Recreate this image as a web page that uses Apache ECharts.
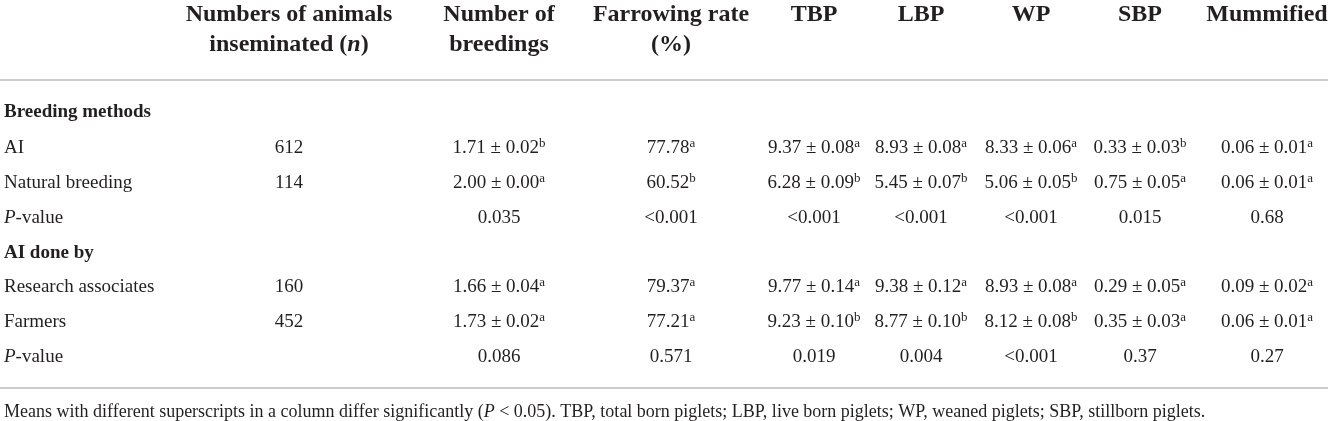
<!DOCTYPE html>
<html>

<head>
    <meta charset="utf-8">
    <script src="https://cdn.jsdelivr.net/npm/echarts@6.0.0/dist/echarts.min.js"></script>
    <style>
        html, body { margin: 0; padding: 0; background: #fff; }
        #table { width: 1331px; height: 421px; }
    </style>
</head>

<body>
    <div id="table"></div>
</body>

<script type="text/javascript">
    // ---- table data ----
    var headers = [
        ['', ''],
        ['Numbers of animals', 'inseminated ({hi|n})'],
        ['Number of', 'breedings'],
        ['Farrowing rate', '(%)'],
        ['TBP', ''],
        ['LBP', ''],
        ['WP', ''],
        ['SBP', ''],
        ['Mummified', '']
    ];
    var groups = ['Breeding methods', 'AI done by'];
    var rowNames = [['AI', 'Natural breeding'], ['Research associates', 'Farmers']];
    var inseminated = [[612, 114], [160, 452]];

    var breedings = [[1.71, 2.00], [1.66, 1.73]];
    var breedingsSE = [[0.02, 0.00], [0.04, 0.02]];
    var breedingsSig = [['b', 'a'], ['a', 'a']];

    var farrowing = [[77.78, 60.52], [79.37, 77.21]];
    var farrowingSig = [['a', 'b'], ['a', 'a']];

    var tbp = [[9.37, 6.28], [9.77, 9.23]];
    var tbpSE = [[0.08, 0.09], [0.14, 0.10]];
    var tbpSig = [['a', 'b'], ['a', 'b']];

    var lbp = [[8.93, 5.45], [9.38, 8.77]];
    var lbpSE = [[0.08, 0.07], [0.12, 0.10]];
    var lbpSig = [['a', 'b'], ['a', 'b']];

    var wp = [[8.33, 5.06], [8.93, 8.12]];
    var wpSE = [[0.06, 0.05], [0.08, 0.08]];
    var wpSig = [['a', 'b'], ['a', 'b']];

    var sbp = [[0.33, 0.75], [0.29, 0.35]];
    var sbpSE = [[0.03, 0.05], [0.05, 0.03]];
    var sbpSig = [['b', 'a'], ['a', 'a']];

    var mummified = [[0.06, 0.06], [0.09, 0.06]];
    var mummifiedSE = [[0.01, 0.01], [0.02, 0.01]];
    var mummifiedSig = [['a', 'a'], ['a', 'a']];

    var pValues = [
        ['0.035', '<0.001', '<0.001', '<0.001', '<0.001', '0.015', '0.68'],
        ['0.086', '0.571', '0.019', '0.004', '<0.001', '0.37', '0.27']
    ];

    var footnote = 'Means with different superscripts in a column differ significantly ({i|P} < 0.05). ' +
        'TBP, total born piglets; LBP, live born piglets; WP, weaned piglets; SBP, stillborn piglets.';

    // ---- layout (pixels on a 1331 x 421 value grid) ----
    var colX = [4, 289, 499, 671, 814, 921, 1031, 1140, 1267];
    var headY = [15, 45];
    var rowY = [112, 148, 183, 218, 253, 287, 322, 357];
    var ruleY = [80, 388];
    var footY = 412;

    var FONT = '"Liberation Serif", "Times New Roman", serif';
    var INK = '#231f20';

    var styles = {
        head: { fontSize: 24, fontWeight: 'bold', lineHeight: 28 },
        group: { fontSize: 19, fontWeight: 'bold', lineHeight: 22 },
        body: { fontSize: 19, fontWeight: 'normal', lineHeight: 22 },
        foot: { fontSize: 18, fontWeight: 'normal', lineHeight: 22 }
    };

    function richFor(s) {
        return {
            sup: { fontSize: 13, lineHeight: 13, verticalAlign: 'top', fontFamily: FONT, fill: INK },
            i: { fontSize: s.fontSize, lineHeight: s.lineHeight, fontStyle: 'italic', fontFamily: FONT, fill: INK },
            hi: { fontSize: s.fontSize, lineHeight: s.lineHeight, fontStyle: 'italic', fontWeight: 'bold', fontFamily: FONT, fill: INK }
        };
    }

    function meanCell(m, se, sig) {
        return m.toFixed(2) + ' \u00b1 ' + se.toFixed(2) + '{sup|' + sig + '}';
    }

    // ---- build cells ----
    var cells = [];
    function add(col, y, text, kind, align) {
        cells.push({ value: [colX[col], y], text: text, kind: kind, align: align || (col === 0 ? 'left' : 'center') });
    }

    headers.forEach(function (h, c) {
        if (h[0]) add(c, headY[0], h[0], 'head');
        if (h[1]) add(c, headY[1], h[1], 'head');
    });

    var numCols = [
        [breedings, breedingsSE, breedingsSig],
        null,
        [tbp, tbpSE, tbpSig],
        [lbp, lbpSE, lbpSig],
        [wp, wpSE, wpSig],
        [sbp, sbpSE, sbpSig],
        [mummified, mummifiedSE, mummifiedSig]
    ];

    groups.forEach(function (g, gi) {
        var base = gi * 4;
        add(0, rowY[base], g, 'group');
        rowNames[gi].forEach(function (name, ri) {
            var y = rowY[base + 1 + ri];
            add(0, y, name, 'body');
            add(1, y, String(inseminated[gi][ri]), 'body');
            numCols.forEach(function (nc, k) {
                var txt;
                if (nc) {
                    txt = meanCell(nc[0][gi][ri], nc[1][gi][ri], nc[2][gi][ri]);
                } else {
                    txt = farrowing[gi][ri].toFixed(2) + '{sup|' + farrowingSig[gi][ri] + '}';
                }
                add(2 + k, y, txt, 'body');
            });
        });
        var py = rowY[base + 3];
        add(0, py, '{i|P}-value', 'body');
        pValues[gi].forEach(function (p, k) {
            add(2 + k, py, p, 'body');
        });
    });

    cells.push({ value: [colX[0], footY], text: footnote, kind: 'foot', align: 'left' });

    var rules = ruleY.map(function (y) { return { value: [0, y] }; });

    var chart = echarts.init(document.getElementById('table'), null, { renderer: 'canvas' });

    var option = {
        animation: false,
        backgroundColor: '#fff',
        grid: { left: 0, right: 0, top: 0, bottom: 0 },
        xAxis: { type: 'value', min: 0, max: 1331, show: false },
        yAxis: { type: 'value', min: 0, max: 421, inverse: true, show: false },
        series: [
            {
                type: 'custom',
                name: 'rules',
                data: rules,
                silent: true,
                renderItem: function (params, api) {
                    var a = api.coord([0, api.value(1)]);
                    var b = api.coord([1328, api.value(1)]);
                    return {
                        type: 'line',
                        shape: { x1: a[0], y1: a[1], x2: b[0], y2: b[1] },
                        style: { stroke: '#cdcdcd', lineWidth: 2 }
                    };
                }
            },
            {
                type: 'custom',
                name: 'cells',
                data: cells,
                silent: true,
                renderItem: function (params, api) {
                    var cell = cells[params.dataIndex];
                    var s = styles[cell.kind];
                    var pt = api.coord([api.value(0), api.value(1)]);
                    return {
                        type: 'text',
                        x: pt[0],
                        y: pt[1],
                        style: {
                            text: cell.text,
                            fill: INK,
                            fontFamily: FONT,
                            fontSize: s.fontSize,
                            fontWeight: s.fontWeight,
                            lineHeight: s.lineHeight,
                            align: cell.align,
                            verticalAlign: 'middle',
                            rich: richFor(s)
                        }
                    };
                }
            }
        ]
    };

    chart.setOption(option);
</script>

</html>
